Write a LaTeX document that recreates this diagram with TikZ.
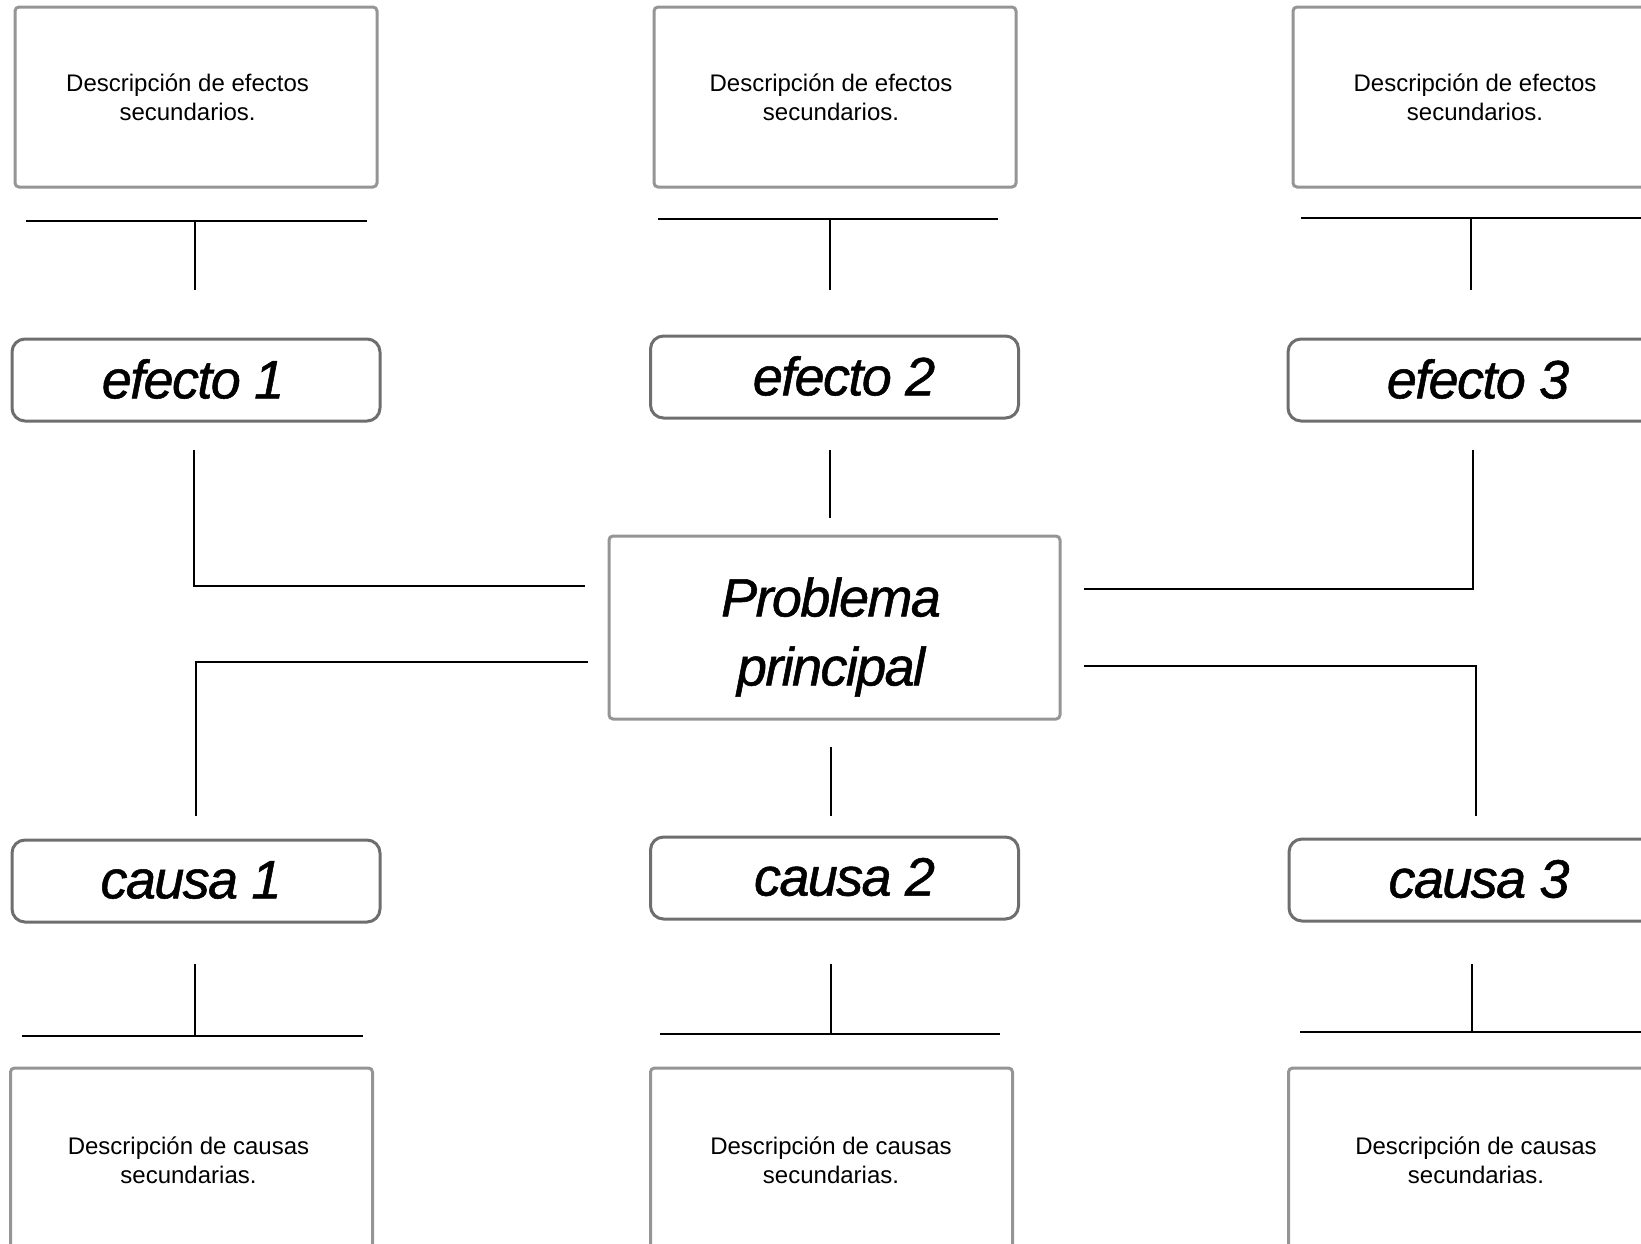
\documentclass[tikz,border=0pt]{standalone}
\usepackage{fontspec}
\setmainfont{Liberation Sans}
\newfontfamily\tightsans[LetterSpace=-3,FakeBold=1]{Liberation Sans}
\definecolor{descgray}{HTML}{959595}
\definecolor{labgray}{HTML}{6E6E6E}
\begin{document}
\begin{tikzpicture}[x=0.5pt,y=-0.5pt,
  descbox/.style={draw=descgray, line width=1.5pt, rounded corners=2pt,
    minimum width=181pt, minimum height=90pt, inner sep=0pt},
  desctext/.style={align=center, inner sep=0pt,
    font=\fontsize{12}{14.5}\selectfont},
  labelbox/.style={draw=labgray, line width=1.5pt, rounded corners=6.5pt,
    minimum width=184pt, minimum height=41pt, inner sep=0pt},
  mainbox/.style={draw=descgray, line width=1.5pt, rounded corners=2pt,
    minimum width=225.5pt, minimum height=91.5pt, inner sep=0pt},
  bigtext/.style={align=center, inner sep=0pt,
    font=\tightsans\itshape\fontsize{27}{34.5}\selectfont},
  conn/.style={line width=1pt, black}]
\useasboundingbox (0,0) rectangle (1641,1243);
\clip (0,0) rectangle (1641,1243);

% description boxes (effects)
\node[descbox] (de1) at (196,97) {};
\node[descbox] (de2) at (835,97) {};
\node[descbox] (de3) at (1474,97) {};
\node[desctext] (de1t) at (187.6,97) {Descripción de efectos\\secundarios.};
\node[desctext] (de2t) at (831,97) {Descripción de efectos\\secundarios.};
\node[desctext] (de3t) at (1475,97) {Descripción de efectos\\secundarios.};

% effects
\node[labelbox] (e1) at (196,380) {};
\node[labelbox] (e2) at (834.5,377) {};
\node[labelbox] (e3) at (1472,380) {};
\node[bigtext] (e1t) at (193,379) {efecto 1};
\node[bigtext] (e2t) at (844,376) {efecto 2};
\node[bigtext] (e3t) at (1478,379) {efecto 3};

% main problem
\node[mainbox] (pp) at (834.5,627.5) {};
\node[bigtext] (ppt) at (831,637) {Problema\\principal};

% causes
\node[labelbox] (c1) at (196,881) {};
\node[labelbox] (c2) at (834.5,878) {};
\node[labelbox] (c3) at (1473,880) {};
\node[bigtext] (c1t) at (191,880) {causa 1};
\node[bigtext] (c2t) at (844.5,877) {causa 2};
\node[bigtext] (c3t) at (1479,879) {causa 3};

% description boxes (causes)
\node[descbox] (dc1) at (191.5,1158) {};
\node[descbox] (dc2) at (831.5,1158) {};
\node[descbox] (dc3) at (1469.5,1158) {};
\node[desctext] (dc1t) at (188.5,1160) {Descripción de causas\\secundarias.};
\node[desctext] (dc2t) at (831,1160) {Descripción de causas\\secundarias.};
\node[desctext] (dc3t) at (1476,1160) {Descripción de causas\\secundarias.};

% top T-bars
\coordinate (ta1) at (26,221);  \coordinate (tb1) at (367,221);
\coordinate (tm1) at (195,221); \coordinate (tv1) at (195,290);
\coordinate (ta2) at (658,219); \coordinate (tb2) at (998,219);
\coordinate (tm2) at (830,219); \coordinate (tv2) at (830,290);
\coordinate (ta3) at (1301,218); \coordinate (tb3) at (1641,218);
\coordinate (tm3) at (1471,218); \coordinate (tv3) at (1471,290);
\draw[conn] (ta1) -- (tb1); \draw[conn] (tm1) -- (tv1);
\draw[conn] (ta2) -- (tb2); \draw[conn] (tm2) -- (tv2);
\draw[conn] (ta3) -- (tb3); \draw[conn] (tm3) -- (tv3);

% effects to problem
\coordinate (ea1) at (194,450); \coordinate (eb1) at (585,586);
\coordinate (ea2) at (830,450); \coordinate (eb2) at (830,518);
\coordinate (ea3) at (1473,450); \coordinate (eb3) at (1084,589);
\draw[conn] (ea1) |- (eb1);
\draw[conn] (ea2) -- (eb2);
\draw[conn] (ea3) |- (eb3);

% problem to causes
\coordinate (pa1) at (588,662); \coordinate (pb1) at (196,816);
\coordinate (pa2) at (831,747); \coordinate (pb2) at (831,816);
\coordinate (pa3) at (1084,666); \coordinate (pb3) at (1476,816);
\draw[conn] (pa1) -| (pb1);
\draw[conn] (pa2) -- (pb2);
\draw[conn] (pa3) -| (pb3);

% bottom T-bars
\coordinate (bv1) at (195,964); \coordinate (bm1) at (195,1035);
\coordinate (ba1) at (22,1036); \coordinate (bb1) at (363,1036);
\coordinate (bv2) at (831,964); \coordinate (bm2) at (831,1034);
\coordinate (ba2) at (660,1034); \coordinate (bb2) at (1000,1034);
\coordinate (bv3) at (1472,964); \coordinate (bm3) at (1472,1032);
\coordinate (ba3) at (1300,1032); \coordinate (bb3) at (1641,1032);
\draw[conn] (bv1) -- (bm1); \draw[conn] (ba1) -- (bb1);
\draw[conn] (bv2) -- (bm2); \draw[conn] (ba2) -- (bb2);
\draw[conn] (bv3) -- (bm3); \draw[conn] (ba3) -- (bb3);
\end{tikzpicture}
\end{document}
